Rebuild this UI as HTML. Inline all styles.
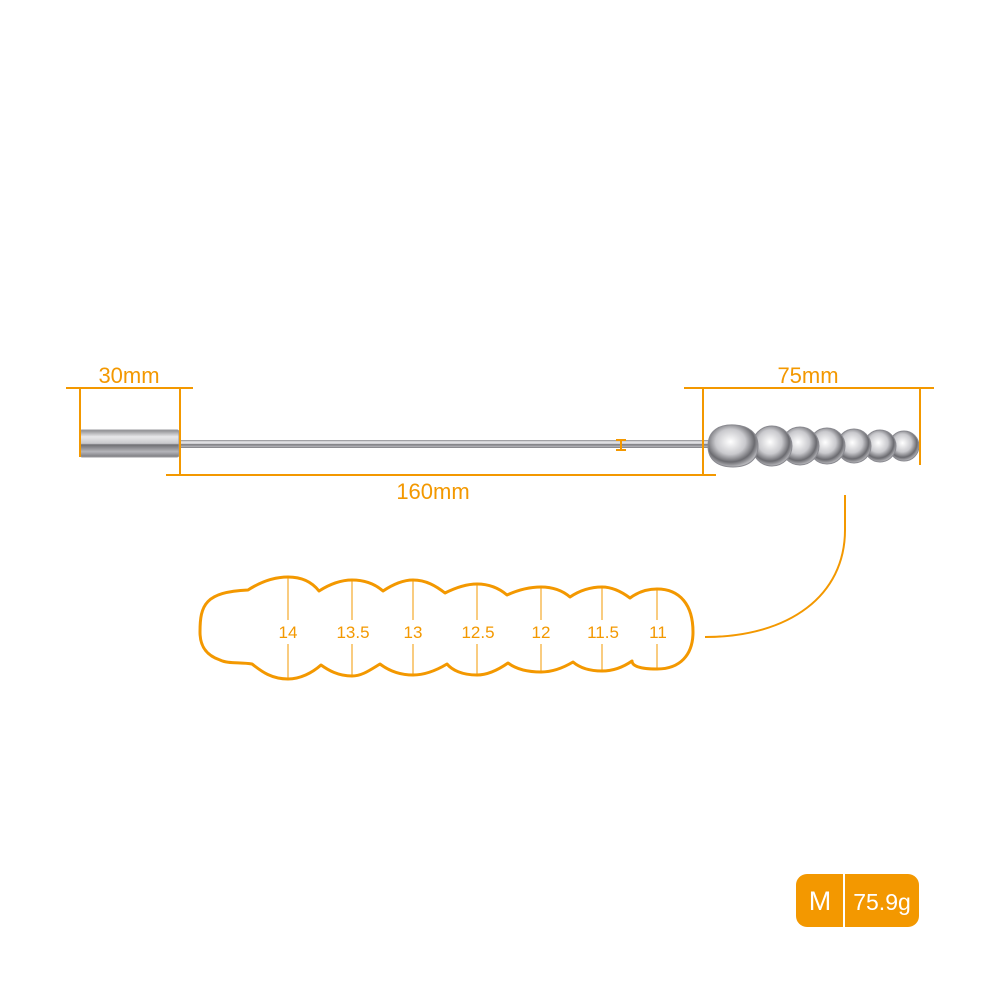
<!DOCTYPE html>
<html><head><meta charset="utf-8"><style>
html,body{margin:0;padding:0;background:#fff;}
svg{display:block;}
text{font-family:"Liberation Sans",sans-serif;fill:#F39800;}
</style></head><body>
<svg width="1000" height="1000" viewBox="0 0 1000 1000" xmlns="http://www.w3.org/2000/svg">
<defs>
<linearGradient id="metal" x1="0" y1="0" x2="0" y2="1">
<stop offset="0" stop-color="#8a8a8e"/><stop offset="0.25" stop-color="#e8e8ea"/><stop offset="0.5" stop-color="#c8c8cc"/><stop offset="0.55" stop-color="#6f6f74"/><stop offset="0.8" stop-color="#b5b5ba"/><stop offset="1" stop-color="#7a7a7e"/>
</linearGradient>
<radialGradient id="bead" cx="0.45" cy="0.4" r="0.6">
<stop offset="0" stop-color="#ffffff"/><stop offset="0.5" stop-color="#c9c9cd"/><stop offset="0.8" stop-color="#6b6b70"/><stop offset="1" stop-color="#b8b8bc"/>
</radialGradient>
</defs>
<rect x="178" y="440" width="530" height="8" fill="url(#metal)"/>
<rect x="80" y="430" width="99" height="27" rx="2" fill="url(#metal)" stroke="#9a9a9e" stroke-width="1"/>
<g stroke="#8a8a90" stroke-width="1" fill="url(#bead)">
<circle cx="904" cy="446" r="15"/>
<circle cx="880" cy="446" r="16"/>
<circle cx="854" cy="446" r="17"/>
<circle cx="827" cy="446" r="18"/>
<circle cx="800" cy="446" r="19"/>
<circle cx="772" cy="446" r="20"/>
<path d="M708,446 C708,430 720,424 735,425 C748,426 758,432 758,446 C758,460 748,467 733,467 C718,467 708,460 708,446 Z"/>
</g>
<g stroke="#F39800" stroke-width="2" fill="none">
<line x1="66" y1="388" x2="193" y2="388"/>
<line x1="80" y1="388" x2="80" y2="457"/>
<line x1="180" y1="388" x2="180" y2="476"/>
<line x1="166" y1="475" x2="716" y2="475"/>
<line x1="703" y1="388" x2="703" y2="476"/>
<line x1="684" y1="388" x2="934" y2="388"/>
<line x1="920" y1="388" x2="920" y2="465"/>
<line x1="621" y1="440" x2="621" y2="450"/>
<line x1="616" y1="440" x2="626" y2="440"/>
<line x1="616" y1="450" x2="626" y2="450"/>
<path d="M845,495 V530 C845,595 790,637 705,637"/>
</g>
<text x="129" y="383" font-size="22" text-anchor="middle">30mm</text>
<text x="808" y="383" font-size="22" text-anchor="middle">75mm</text>
<text x="433" y="499" font-size="22" text-anchor="middle">160mm</text>
<path fill="none" stroke="#F39800" stroke-width="3" stroke-linejoin="round" d="
M248,590 C262,581 275,577 288,577 C302,577 312,582 319,591
C330,584 341,580 352,580 C365,580 375,584 383,591
C392,585 402,580 413,580 C426,580 436,586 445,593
C455,588 466,584 477,584 C490,584 500,589 507,595
C518,590 530,587 541,587 C554,587 563,591 570,597
C579,591 590,587 602,587 C613,587 622,592 630,598
C638,592 647,589 657,589 C680,589 693,605 693,632
C693,655 680,669 657,669 C640,669 632,666 632,661
C622,668 612,671 602,671 C590,671 580,668 573,662
C563,668 552,672 541,672 C527,672 516,669 508,663
C498,670 488,675 477,675 C462,675 452,670 447,664
C437,670 426,675 413,675 C398,675 388,670 380,664
C370,670 362,676 352,676 C338,676 328,670 321,665
C312,673 300,679 288,679 C270,679 260,670 252,664
C240,662 228,664 220,660 C205,655 200,645 200,632
C200,605 205,592 248,590 Z"/>
<g stroke="#F39800" stroke-width="1">
<line x1="288" y1="577" x2="288" y2="620"/><line x1="288" y1="644" x2="288" y2="679"/>
<line x1="352" y1="580" x2="352" y2="620"/><line x1="352" y1="644" x2="352" y2="676"/>
<line x1="413" y1="580" x2="413" y2="620"/><line x1="413" y1="644" x2="413" y2="675"/>
<line x1="477" y1="584" x2="477" y2="620"/><line x1="477" y1="644" x2="477" y2="675"/>
<line x1="541" y1="587" x2="541" y2="620"/><line x1="541" y1="644" x2="541" y2="672"/>
<line x1="602" y1="587" x2="602" y2="620"/><line x1="602" y1="644" x2="602" y2="671"/>
<line x1="657" y1="589" x2="657" y2="620"/><line x1="657" y1="644" x2="657" y2="669"/>
</g>
<g font-size="17" text-anchor="middle">
<text x="288" y="638">14</text><text x="353" y="638">13.5</text><text x="413" y="638">13</text>
<text x="478" y="638">12.5</text><text x="541" y="638">12</text><text x="603" y="638">11.5</text><text x="658" y="638">11</text>
</g>
<rect x="796" y="874" width="123" height="53" rx="11" fill="#F39800"/>
<line x1="844" y1="874" x2="844" y2="927" stroke="#fff" stroke-width="2"/>
<text x="820" y="910" font-size="27" text-anchor="middle" style="fill:#fff">M</text>
<text x="882" y="910" font-size="23" text-anchor="middle" style="fill:#fff">75.9g</text>
</svg>
</body></html>
